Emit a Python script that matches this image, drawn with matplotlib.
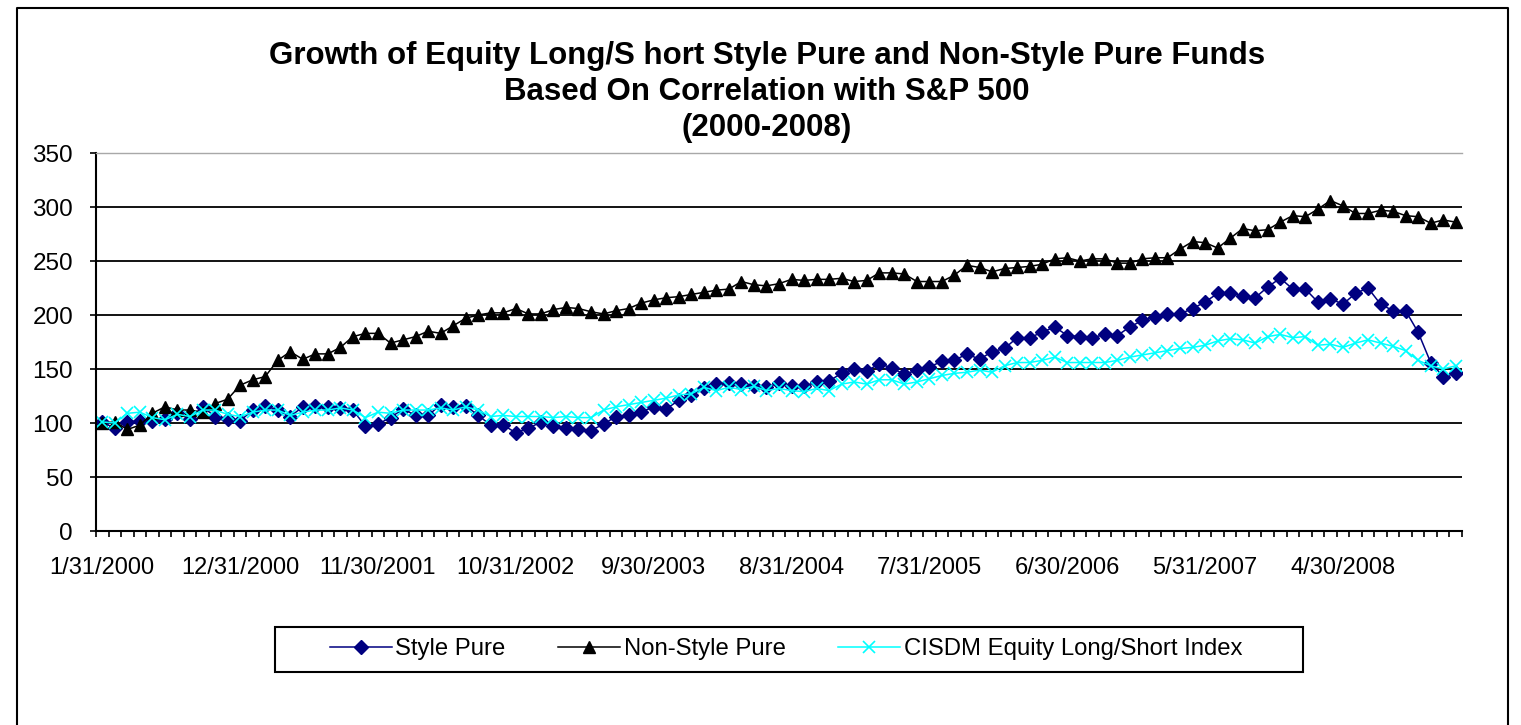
import calendar
import numpy as np
from matplotlib import pyplot as plt
from matplotlib.patches import Rectangle
from matplotlib.lines import Line2D

# monthly index values, Jan 2000 .. Jan 2009 (base 100)
style_pure = [
    101, 95, 101, 102, 102, 104, 109, 104, 115, 106, 104, 102, 112, 116, 112, 106, 115, 116,
    115, 114, 112, 97, 99, 105, 113, 107, 107, 117, 115, 116, 107, 98, 98, 91, 95, 101,
    97, 95, 94, 93, 99, 106, 107, 110, 115, 113, 121, 126, 132, 136, 137, 136, 134, 133,
    137, 134, 134, 138, 139, 146, 150, 148, 155, 151, 145, 149, 152, 157, 158, 164, 159, 166,
    169, 179, 179, 184, 189, 181, 180, 179, 182, 181, 189, 195, 198, 201, 201, 206, 212, 220, 220,
    218, 216, 226, 234, 224, 224, 212, 215, 210, 220, 225, 210, 204, 204, 184, 156, 143, 146]

non_style_pure = [
    100, 101, 94, 98, 109, 115, 112, 112, 110, 118, 122, 135, 140, 143, 158, 166, 159, 164,
    164, 170, 180, 183, 183, 174, 177, 180, 185, 183, 190, 197, 200, 202, 202, 206, 201, 201,
    205, 207, 206, 203, 201, 204, 206, 211, 214, 216, 217, 219, 221, 223, 224, 231, 228, 227,
    229, 233, 232, 233, 233, 234, 231, 232, 239, 239, 238, 231, 231, 231, 237, 246, 244, 240,
    243, 244, 245, 247, 252, 253, 250, 252, 252, 248, 248, 252, 253, 253, 261, 268, 267, 262,
    271, 280, 278, 279, 286, 292, 291, 298, 306, 301, 294, 294, 297, 296, 292, 291, 285, 288, 286]

cisdm_index = [
    101, 100, 109, 110, 105, 103, 108, 106, 112, 112, 108, 106, 110, 112, 112, 107, 110, 112,
    112, 114, 112, 105, 110, 109, 112, 112, 112, 114, 112, 115, 112, 106, 107, 106, 106, 106,
    105, 106, 105, 105, 112, 115, 117, 119, 121, 123, 126, 127, 133, 130, 133, 131, 134, 130,
    132, 130, 129, 132, 130, 136, 138, 136, 140, 140, 136, 138, 141, 144, 146, 147, 149, 147,
    153, 156, 156, 158, 161, 156, 156, 156, 156, 158, 161, 163, 165, 167, 169, 170, 172, 176, 178,
    177, 174, 180, 182, 179, 180, 172, 173, 170, 174, 177, 174, 171, 167, 158, 153, 150, 153]

months = []
for n in range(len(style_pure)):
    year = 2000 + n // 12
    month = n % 12 + 1
    months.append(f"{month}/{calendar.monthrange(year, month)[1]}/{year}")

LABEL_STEP = 11
W, H = 1521, 725

plt.rcParams.update({'font.family': ['Liberation Sans', 'DejaVu Sans']})
fig = plt.figure(figsize=(W / 100, H / 100), dpi=100)
ax = fig.add_axes([96 / W, 1 - 531 / H, (1462 - 96) / W, (531 - 153) / H])

x = np.arange(len(months))
ax.plot(x, style_pure, color='#000080', lw=1.1, marker='D', ms=6.8,
        label='Style Pure')
ax.plot(x, non_style_pure, color='black', lw=1.1, marker='^', ms=9.2,
        label='Non-Style Pure')
ax.plot(x, cisdm_index, color='#00FFFF', lw=1.1, marker='x', ms=9.0, mew=1.2,
        label='CISDM Equity Long/Short Index')

ax.set_xlim(-0.5, len(months) - 0.5)
ax.set_ylim(0, 350)
ax.set_yticks(range(0, 351, 50))
ax.yaxis.grid(True, color='black', lw=1.3)
ax.set_axisbelow(True)

ax.set_xticks(x[::LABEL_STEP])
ax.set_xticklabels(months[::LABEL_STEP])
ax.set_xticks(np.arange(-0.5, len(months), 1), minor=True)
ax.tick_params(axis='x', which='major', length=0, pad=19, labelsize=17)
ax.tick_params(axis='x', which='minor', length=4.5, width=1.2, direction='out')
ax.tick_params(axis='y', length=4.5, width=1.2, pad=12, labelsize=17.5)

for side in ('left', 'bottom'):
    ax.spines[side].set_linewidth(1.5)
ax.spines['top'].set_color('#a8a8a8')
ax.spines['top'].set_linewidth(1.0)
ax.spines['right'].set_visible(False)

title_lines = ['Growth of Equity Long/S hort Style Pure and Non-Style Pure Funds',
               'Based On Correlation with S&P 500',
               '(2000-2008)']
for line, ypx in zip(title_lines, (56, 92, 128)):
    fig.text(767 / W, 1 - ypx / H, line, ha='center', va='center',
             fontsize=22.5, fontweight='bold')

fig.legend(loc='center', bbox_to_anchor=(786 / W, 1 - 649.5 / H), ncol=3,
           frameon=False, fontsize=17.2, handlelength=2.6, handletextpad=0.15,
           columnspacing=2.2)
fig.add_artist(Rectangle((275 / W, 1 - 672 / H), (1303 - 275) / W, 45 / H,
                         transform=fig.transFigure, fill=False,
                         ec='black', lw=1.5))

# chart border (bottom edge falls off the page)
fig.add_artist(Line2D([17 / W, 17 / W, 1508 / W, 1508 / W],
                      [0, 1 - 8 / H, 1 - 8 / H, 0],
                      transform=fig.transFigure, color='black', lw=1.5))

fig.savefig('out.png', dpi=100)
